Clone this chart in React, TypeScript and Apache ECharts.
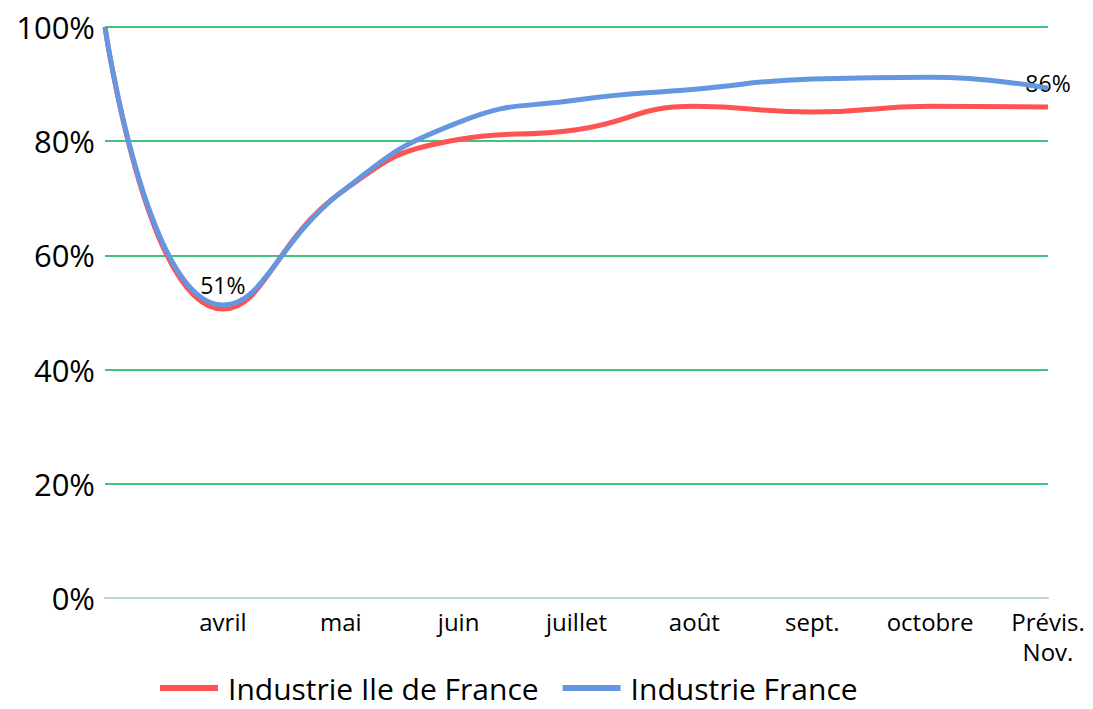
import React, { useEffect, useRef } from "react";
import * as echarts from "echarts";

const categories = ["", "avril", "mai", "juin", "juillet", "août", "sept.", "octobre", "Prévis.\nNov."];
const ileDeFrance = [100, 50.6, 71, 80.3, 82, 86.1, 85.1, 86.1, 86];
const france = [100, 51.3, 71, 83.3, 87.2, 89.1, 90.9, 91.2, 89.3];
const labelledIndices = [1, 8];
const seriesNames = ["Industrie Ile de France", "Industrie France"];
const seriesColors = ["#ff5252", "#6497e0"];

export default function App() {
  const ref = useRef<HTMLDivElement>(null);
  useEffect(() => {
    if (!ref.current) return;
    const chart = echarts.init(ref.current, undefined, { renderer: "svg" });
    const font = "'Open Sans', sans-serif";
    chart.setOption({
      animation: false,
      textStyle: { fontFamily: font },
      grid: { left: 105, right: 45, top: 27, bottom: 111, containLabel: false },
      legend: {
        bottom: 1,
        left: 160,
        padding: 0,
        itemGap: 24,
        itemWidth: 58,
        itemHeight: 6,
        icon: "rect",
        textStyle: { fontSize: 30, lineHeight: 40, color: "#000", fontFamily: font, padding: [0, 0, 0, 5] },
        data: seriesNames.map((n, i) => ({ name: n, itemStyle: { color: seriesColors[i], opacity: 1 } })),
      },
      xAxis: {
        type: "category",
        data: categories,
        boundaryGap: false,
        axisLine: { lineStyle: { color: "#bcd6c8", width: 2 } },
        axisTick: { show: false },
        axisLabel: { fontSize: 24, color: "#000", margin: 8, interval: 0, lineHeight: 30, fontFamily: font },
        splitLine: { show: false },
      },
      yAxis: {
        type: "value",
        min: 0,
        max: 100,
        interval: 20,
        axisLine: { show: false },
        axisTick: { show: false },
        axisLabel: { formatter: "{value}%", fontSize: 31, color: "#000", margin: 10, fontFamily: font },
        splitLine: { lineStyle: { color: "#00b050", width: 1.5 } },
      },
      series: [
        {
          name: seriesNames[0],
          type: "line",
          smooth: 0.5,
          showSymbol: true,
          symbol: "circle",
          symbolSize: 1,
          itemStyle: { opacity: 0, color: seriesColors[0] },
          data: ileDeFrance,
          color: seriesColors[0],
          lineStyle: { width: 5, color: seriesColors[0] },
          label: {
            show: true,
            position: "top",
            distance: 12,
            fontSize: 23,
            color: "#000",
            opacity: 1,
            fontFamily: font,
            formatter: (p: any) => (labelledIndices.includes(p.dataIndex) ? Math.round(p.value) + "%" : ""),
          },
          labelLayout: { hideOverlap: false },
          z: 2,
        },
        {
          name: seriesNames[1],
          type: "line",
          smooth: 0.5,
          showSymbol: false,
          symbol: "none",
          data: france,
          color: seriesColors[1],
          itemStyle: { color: seriesColors[1] },
          lineStyle: { width: 5, color: seriesColors[1] },
          z: 3,
        },
      ],
    });
    return () => chart.dispose();
  }, []);
  return <div ref={ref} style={{ width: 1093, height: 709, position: "absolute", left: 0, top: 0, background: "#fff" }} />;
}
